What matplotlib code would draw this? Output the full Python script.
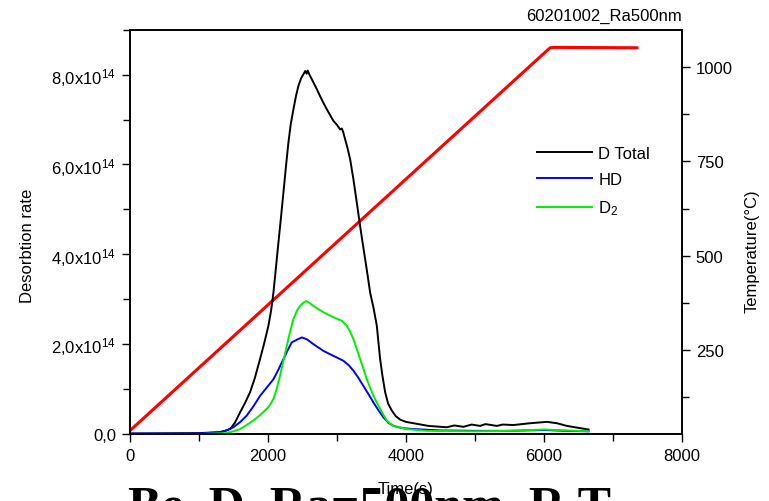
import matplotlib
matplotlib.use("Agg")
import matplotlib.pyplot as plt
from matplotlib.ticker import MultipleLocator, FixedLocator, FixedFormatter
import numpy as np

plt.rcParams['font.family'] = ['Liberation Sans', 'DejaVu Sans']
plt.rcParams['mathtext.fontset'] = 'custom'
plt.rcParams['mathtext.rm'] = 'Liberation Sans'
plt.rcParams['mathtext.it'] = 'Liberation Sans'
plt.rcParams['mathtext.default'] = 'regular'

# ---- data (desorption rates in units of 1e14) ----
t_total = [0, 1000, 1300, 1380, 1450, 1520, 1595, 1670, 1740, 1810, 1885, 1950, 2006, 2045,
           2079, 2115, 2151, 2190, 2224, 2260, 2296, 2330, 2369, 2405, 2441, 2480,
           2514, 2540, 2560, 2575, 2600, 2634, 2700, 2755, 2800, 2852, 2900, 2948, 3000, 3045,
           3070, 3090, 3118, 3150, 3190, 3238, 3287, 3335, 3370, 3408, 3445, 3480, 3530, 3577,
           3600, 3625, 3660, 3698, 3740, 3795, 3850, 3915, 4000, 4108, 4326, 4592,
           4700, 4833, 4950, 5075, 5150, 5317, 5400, 5559, 5800, 6042, 6187, 6332, 6525, 6646]
d_total = [0.01, 0.02, 0.04, 0.07, 0.11, 0.25, 0.48, 0.70, 0.93, 1.25, 1.67, 2.05, 2.41, 2.75,
           3.15, 3.70, 4.26, 4.85, 5.38, 5.95, 6.49, 6.90, 7.23, 7.52, 7.75, 7.92,
           8.01, 8.08, 8.02, 8.09, 8.00, 7.90, 7.70, 7.52, 7.38, 7.23, 7.10, 6.97, 6.88, 6.78,
           6.80, 6.72, 6.56, 6.38, 6.12, 5.67, 5.15, 4.63, 4.27, 3.89, 3.52, 3.15, 2.80, 2.41,
           2.05, 1.67, 1.28, 0.93, 0.68, 0.52, 0.40, 0.32, 0.27, 0.24, 0.18, 0.15,
           0.19, 0.16, 0.21, 0.18, 0.22, 0.18, 0.21, 0.20, 0.24, 0.27, 0.24, 0.18, 0.13, 0.10]

t_hd = [0, 1000, 1305, 1400, 1498, 1600, 1692, 1790, 1885, 1980, 2079, 2150, 2224, 2290, 2345,
        2420, 2490, 2562, 2658, 2803, 2948, 3093, 3170, 3238, 3310, 3383, 3455, 3529, 3600,
        3673, 3745, 3819, 3950, 4108, 4500, 5000, 5500, 6000, 6300, 6646]
hd = [0.01, 0.01, 0.04, 0.08, 0.15, 0.27, 0.41, 0.62, 0.85, 1.03, 1.22, 1.43, 1.67, 1.88, 2.04,
      2.10, 2.15, 2.11, 2.00, 1.85, 1.74, 1.63, 1.53, 1.41, 1.25, 1.07, 0.89, 0.70, 0.53,
      0.37, 0.25, 0.18, 0.13, 0.11, 0.08, 0.07, 0.07, 0.09, 0.07, 0.06]

t_d2 = [0, 1000, 1402, 1500, 1595, 1690, 1788, 1885, 1982, 2030, 2079, 2125, 2175, 2225, 2272,
        2320, 2369, 2420, 2465, 2510, 2552, 2600, 2658, 2803,
        2948, 3069, 3142, 3190, 3238, 3285, 3335, 3385, 3432, 3480, 3529, 3577, 3625, 3675,
        3722, 3770, 3819, 4012, 4302, 5000, 5500, 6000, 6300, 6646]
d2 = [0.0, 0.0, 0.02, 0.06, 0.11, 0.20, 0.30, 0.42, 0.56, 0.65, 0.78, 1.00, 1.30, 1.64, 1.96,
      2.28, 2.56, 2.75, 2.85, 2.92, 2.96, 2.92, 2.85, 2.71,
      2.60, 2.52, 2.41, 2.28, 2.11, 1.90, 1.67, 1.44, 1.22, 1.03, 0.85, 0.70, 0.56, 0.42,
      0.30, 0.23, 0.18, 0.11, 0.07, 0.06, 0.07, 0.10, 0.08, 0.06]

t_temp = [0, 6040, 6090, 6150, 7346]
temp = [35, 1044, 1052, 1053, 1052]

scale = 1e14

fig = plt.figure(figsize=(7.69, 5.02), dpi=100)
L, R, B, T = 130/769, 682/769, (502-435)/502, (502-30.7)/502
ax = fig.add_axes([L, B, R-L, T-B])
ax2 = ax.twinx()

ax2.plot(t_temp, temp, color='#ff0000', lw=2.2, zorder=3)
lt, = ax.plot(t_total, np.array(d_total)*scale, color='black', lw=1.4, label='D Total')
lh, = ax.plot(t_hd, np.array(hd)*scale, color='#0000ff', lw=1.4, label='HD')
ld, = ax.plot(t_d2, np.array(d2)*scale, color='#00ee00', lw=1.4, label='D$_2$')

ax.set_zorder(ax2.get_zorder()+1)
ax.patch.set_visible(False)

ax.set_xlim(0, 8000)
ax.set_ylim(0, 9e14)
ax2.set_ylim(26, 1100)

yt = [0, 2e14, 4e14, 6e14, 8e14]
ax.yaxis.set_major_locator(FixedLocator(yt))
ax.yaxis.set_major_formatter(FixedFormatter(['0,0', '2,0x10$^{14}$', '4,0x10$^{14}$',
                                             '6,0x10$^{14}$', '8,0x10$^{14}$']))
ax.yaxis.set_minor_locator(MultipleLocator(1e14))
ax.xaxis.set_major_locator(MultipleLocator(2000))
ax.xaxis.set_minor_locator(MultipleLocator(1000))
ax2.yaxis.set_major_locator(FixedLocator([250, 500, 750, 1000]))
ax2.yaxis.set_minor_locator(FixedLocator([125, 375, 625, 875]))

for a in (ax, ax2):
    a.tick_params(which='major', direction='out', length=6, width=1, labelsize=12, pad=4)
    a.tick_params(which='minor', direction='out', length=5, width=1)
    for s in a.spines.values():
        s.set_linewidth(1.2)
ax.tick_params(axis='x', which='both', top=False)
ax.tick_params(axis='y', which='both', right=False)

leg = ax.legend(handles=[lt, lh, ld], loc='upper left',
                bbox_to_anchor=((530-130)/552, (435-140)/404.3),
                frameon=False, fontsize=12, handlelength=3.3, handletextpad=0.4,
                labelspacing=0.68, borderaxespad=0)

fig.text(28/769, 1-246/502, 'Desorbtion rate', rotation=90, ha='center', va='center', fontsize=12)
fig.text(752/769, 1-251/502, 'Temperature(°C)', rotation=90, ha='center', va='center', fontsize=12)
fig.text(682/769, 1-21/502, '60201002_Ra500nm', ha='right', va='baseline', fontsize=12)
fig.text(128/769, 1-521/502, 'Be, D, Ra=500nm, R.T.', ha='left', va='baseline',
         fontsize=36, fontweight='bold', family='Liberation Serif')
fig.text(406/769, 1-494/502, 'Time(s)', ha='center', va='baseline', fontsize=12)

fig.savefig('out.png', dpi=100)
